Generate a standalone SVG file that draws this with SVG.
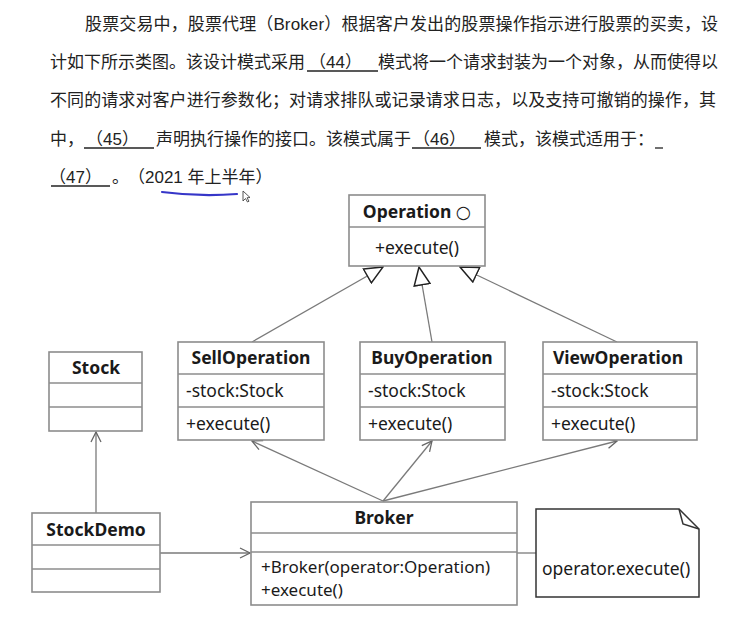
<svg xmlns="http://www.w3.org/2000/svg" width="731" height="634" viewBox="0 0 731 634">
<style>
.para{font-family:"Liberation Sans","Noto Sans CJK SC",sans-serif;font-size:17px;fill:#222}
.ul{stroke:#222;stroke-width:1.3}
.box{fill:#fff;stroke:#8c8c8c;stroke-width:1.6}
.sep{stroke:#8c8c8c;stroke-width:1.6}
.t{font-family:"Noto Sans","DejaVu Sans",sans-serif;font-size:17.5px;fill:#1a1a1a}
.h{font-family:"Noto Sans","DejaVu Sans",sans-serif;font-size:17.5px;font-weight:bold;fill:#1a1a1a;text-anchor:middle}
.con{fill:none;stroke:#7a7a7a;stroke-width:1.3}
</style>
<defs>
<marker id="tri" viewBox="0 0 20 18" refX="19" refY="9" markerWidth="20" markerHeight="18" markerUnits="userSpaceOnUse" orient="auto"><path d="M1,1 L19,9 L1,17 Z" fill="#fff" stroke="#222" stroke-width="1.5"/></marker>
<marker id="open" viewBox="0 0 12 12" refX="11" refY="6" markerWidth="12" markerHeight="12" markerUnits="userSpaceOnUse" orient="auto"><path d="M1,1 L11,6 L1,11" fill="none" stroke="#666" stroke-width="1.3"/></marker>
</defs>

<g id="paragraph">
<text class="para" x="85" y="30" textLength="633" lengthAdjust="spacing">股票交易中，股票代理（Broker）根据客户发出的股票操作指示进行股票的买卖，设</text>
<text class="para" x="50" y="68">计如下所示类图。该设计模式采用</text>
<text class="para" x="309" y="68">（44）</text>
<line class="ul" x1="307" y1="71" x2="378" y2="71"/>
<text class="para" x="378" y="68" textLength="340" lengthAdjust="spacing">模式将一个请求封装为一个对象，从而使得以</text>
<text class="para" x="50" y="106" textLength="666" lengthAdjust="spacing">不同的请求对客户进行参数化；对请求排队或记录请求日志，以及支持可撤销的操作，其</text>
<text class="para" x="50" y="145">中，</text>
<text class="para" x="86" y="145">（45）</text>
<line class="ul" x1="84" y1="148" x2="154" y2="148"/>
<text class="para" x="156" y="145">声明执行操作的接口。该模式属于</text>
<text class="para" x="413" y="145">（46）</text>
<line class="ul" x1="412" y1="148" x2="481" y2="148"/>
<text class="para" x="484" y="145">模式，该模式适用于：</text>
<line class="ul" x1="655" y1="148" x2="663" y2="148"/>
<text class="para" x="49" y="183">（47）</text>
<line class="ul" x1="51" y1="186" x2="110" y2="186"/>
<text class="para" x="112" y="183">。</text>
<text class="para" x="128" y="183">（2021 年上半年）</text>
<path d="M162,192 Q200,197 237,194" fill="none" stroke="#3636c8" stroke-width="2.2" stroke-linecap="round"/>
<path d="M243,191 L243,201 L245.5,198.5 L247.5,202 L249,201.2 L247,197.8 L250,197.5 Z" fill="#fff" stroke="#444" stroke-width="0.9"/>
</g>

<g id="connectors">
<path class="con" d="M252,342 L383,267" marker-end="url(#tri)"/>
<path class="con" d="M432,342 L419,267" marker-end="url(#tri)"/>
<path class="con" d="M617,342 L460,267" marker-end="url(#tri)"/>
<path class="con" d="M383,501 L252,441" marker-end="url(#open)"/>
<path class="con" d="M383,501 L432,441" marker-end="url(#open)"/>
<path class="con" d="M383,501 L617,441" marker-end="url(#open)"/>
<path class="con" d="M96,513 L96,432" marker-end="url(#open)"/>
<path class="con" d="M160,553 L250,553" marker-end="url(#open)"/>
<path class="con" d="M509,553 L536,553"/>
<circle cx="509" cy="553" r="3.6" fill="#111"/>
</g>

<g id="Operation">
<rect class="box" x="349" y="195" width="136" height="71"/>
<line class="sep" x1="349" y1="227" x2="485" y2="227"/>
<text class="h" x="417" y="218">Operation ○</text>
<text class="t" x="417" y="254" text-anchor="middle">+execute()</text>
</g>

<g id="SellOperation">
<rect class="box" x="178" y="342" width="146" height="98"/>
<line class="sep" x1="178" y1="374" x2="324" y2="374"/>
<line class="sep" x1="178" y1="407" x2="324" y2="407"/>
<text class="h" x="251" y="364">SellOperation</text>
<text class="t" x="186" y="397">-stock:Stock</text>
<text class="t" x="186" y="430">+execute()</text>
</g>

<g id="BuyOperation">
<rect class="box" x="360" y="342" width="145" height="98"/>
<line class="sep" x1="360" y1="374" x2="505" y2="374"/>
<line class="sep" x1="360" y1="407" x2="505" y2="407"/>
<text class="h" x="432" y="364">BuyOperation</text>
<text class="t" x="368" y="397">-stock:Stock</text>
<text class="t" x="368" y="430">+execute()</text>
</g>

<g id="ViewOperation">
<rect class="box" x="543" y="342" width="154" height="98"/>
<line class="sep" x1="543" y1="374" x2="697" y2="374"/>
<line class="sep" x1="543" y1="407" x2="697" y2="407"/>
<text class="h" x="618" y="364">ViewOperation</text>
<text class="t" x="551" y="397">-stock:Stock</text>
<text class="t" x="551" y="430">+execute()</text>
</g>

<g id="Stock">
<rect class="box" x="49" y="352" width="93" height="79"/>
<line class="sep" x1="49" y1="383" x2="142" y2="383"/>
<line class="sep" x1="49" y1="407" x2="142" y2="407"/>
<text class="h" x="96" y="374">Stock</text>
</g>

<g id="StockDemo">
<rect class="box" x="32" y="513" width="128" height="79"/>
<line class="sep" x1="32" y1="545" x2="160" y2="545"/>
<line class="sep" x1="32" y1="569" x2="160" y2="569"/>
<text class="h" x="96" y="536">StockDemo</text>
</g>

<g id="Broker">
<rect class="box" x="251" y="502" width="266" height="103"/>
<line class="sep" x1="251" y1="533" x2="517" y2="533"/>
<line class="sep" x1="251" y1="552" x2="517" y2="552"/>
<text class="h" x="384" y="524">Broker</text>
<text class="t" x="261" y="573" style="font-size:17px">+Broker(operator:Operation)</text>
<text class="t" x="261" y="596" style="font-size:17px">+execute()</text>
</g>

<g id="note">
<path d="M536,509 H679 L699,529 V597 H536 Z" fill="#fff" stroke="#333" stroke-width="1.5"/>
<path d="M679,509 L683,524 L699,529" fill="none" stroke="#333" stroke-width="1.5"/>
<text class="t" x="542" y="575">operator.execute()</text>
</g>
</svg>
